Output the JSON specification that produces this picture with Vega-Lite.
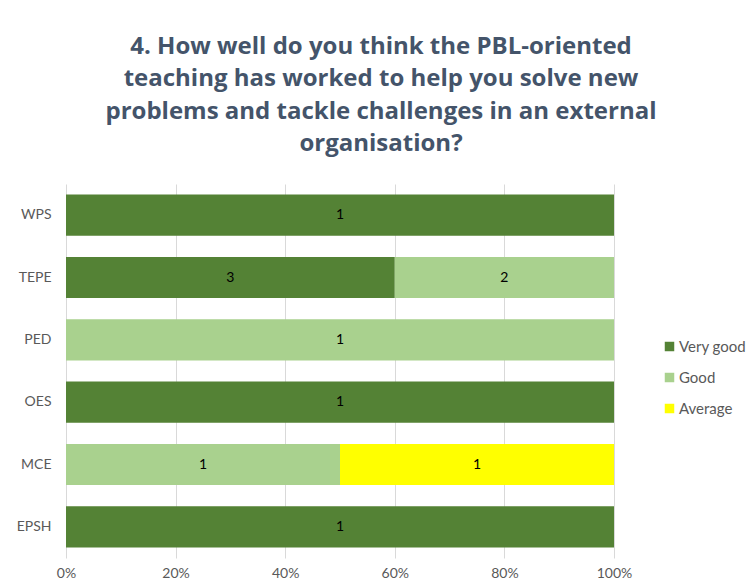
{
  "$schema": "https://vega.github.io/schema/vega-lite/v6.json",
  "width": 548,
  "height": 374,
  "autosize": {"type": "none"},
  "padding": {"left": 66, "top": 184, "right": 137, "bottom": 28},
  "background": "white",
  "title": {
    "text": ["4. How well do you think the PBL-oriented", "teaching has worked to help you solve new", "problems and tackle challenges in an external", "organisation?"],
    "font": "Open Sans",
    "fontSize": 24,
    "fontWeight": "bold",
    "color": "#44546A",
    "lineHeight": 32.5,
    "anchor": "middle",
    "dx": 41,
    "offset": 28
  },
  "data": {
    "values": [
      {"program": "WPS", "response": "Very good", "count": 1},
      {"program": "TEPE", "response": "Very good", "count": 3},
      {"program": "TEPE", "response": "Good", "count": 2},
      {"program": "PED", "response": "Good", "count": 1},
      {"program": "OES", "response": "Very good", "count": 1},
      {"program": "MCE", "response": "Good", "count": 1},
      {"program": "MCE", "response": "Average", "count": 1},
      {"program": "EPSH", "response": "Very good", "count": 1}
    ]
  },
  "transform": [
    {"stack": "count", "groupby": ["program"], "as": ["x0", "x1"], "offset": "normalize", "sort": [{"field": "response", "order": "descending"}]}
  ],
  "encoding": {
    "y": {
      "field": "program",
      "type": "nominal",
      "sort": ["WPS", "TEPE", "PED", "OES", "MCE", "EPSH"],
      "scale": {"paddingInner": 0.34, "paddingOuter": 0.17},
      "axis": {"title": null, "ticks": false, "domain": false, "labelPadding": 15, "labelFont": "Lato", "labelFontSize": 14, "labelColor": "#595959"}
    }
  },
  "layer": [
    {
      "mark": {"type": "bar"},
      "encoding": {
        "x": {
          "field": "x0",
          "type": "quantitative",
          "scale": {"domain": [0, 1]},
          "axis": {"title": null, "format": "%", "values": [0, 0.2, 0.4, 0.6, 0.8, 1], "grid": true, "gridColor": "#D9D9D9", "domain": false, "ticks": false, "labelFlush": false, "labelPadding": 8, "labelFont": "Lato", "labelFontSize": 14, "labelColor": "#595959"}
        },
        "x2": {"field": "x1"},
        "color": {
          "field": "response",
          "type": "nominal",
          "scale": {"domain": ["Very good", "Good", "Average"], "range": ["#548235", "#A9D18E", "#FFFF00"]},
          "legend": {
            "title": null,
            "orient": "none",
            "legendX": 596,
            "legendY": 155,
            "symbolType": "square",
            "symbolSize": 90,
            "symbolStrokeWidth": 0,
            "labelFont": "Lato",
            "labelFontSize": 15,
            "labelColor": "#595959",
            "labelOffset": 2,
            "rowPadding": 15
          }
        }
      }
    },
    {
      "transform": [
        {"fold": ["x0", "x1"], "as": ["edge", "pos"]},
        {"aggregate": [{"op": "mean", "field": "pos", "as": "mid"}], "groupby": ["program", "response", "count"]}
      ],
      "mark": {"type": "text", "font": "Lato", "fontSize": 14, "color": "black"},
      "encoding": {
        "x": {"field": "mid", "type": "quantitative"},
        "text": {"field": "count", "type": "quantitative"}
      }
    }
  ],
  "config": {"view": {"stroke": null}}
}
